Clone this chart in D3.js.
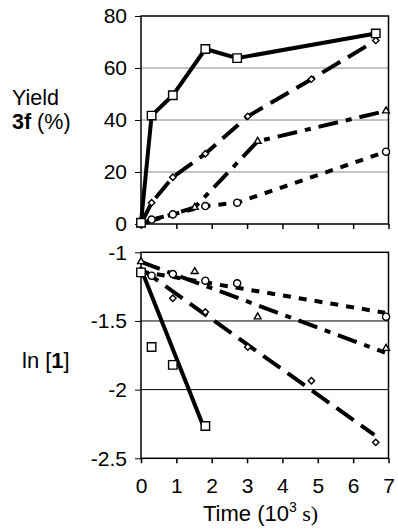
<!DOCTYPE html>
<html>
<head>
<meta charset="utf-8">
<script src="https://cdn.jsdelivr.net/npm/d3@7"></script>
<style>
  html, body { margin: 0; padding: 0; background: #fff; }
  svg { display: block; font-family: "Liberation Sans", Arial, sans-serif; }
</style>
</head>
<body>
<svg id="chart" width="398" height="529"></svg>
<script>
// time in 10^3 s
const timeTicks = [0, 1, 2, 3, 4, 5, 6, 7];
const yieldTicks = [0, 20, 40, 60, 80];
const lnTicks = [-1, -1.5, -2, -2.5];
const lnTickLabels = ["-1", "-1.5", "-2", "-2.5"];

// top panel: yield of 3f (%)
const squareTime = [0, 0.3, 0.9, 1.82, 2.72, 6.64];
const squareYield = [0.5, 41.7, 49.5, 67.3, 63.8, 73.3];
const diamondTime = [0, 0.3, 0.9, 1.82, 3.02, 4.82, 6.64];
const diamondYield = [0, 8.2, 18, 27, 41.4, 55.7, 70.6];
const triangleTime = [0, 1.52, 3.3, 6.93];
const triangleYield = [0, 6.4, 31.8, 43.5];
const circleTime = [0, 0.3, 0.9, 1.82, 2.72, 6.93];
const circleYield = [0, 1.7, 3.7, 6.9, 8.2, 27.8];

// bottom panel: ln [1]
const squareLnTime = [0, 0.3, 0.9, 1.82];
const squareLn = [-1.146, -1.69, -1.82, -2.265];
const diamondLnTime = [0, 0.9, 1.82, 3.02, 4.82, 6.64];
const diamondLn = [-1.13, -1.335, -1.435, -1.69, -1.935, -2.384];
const triangleLnTime = [0, 1.52, 3.3, 6.93];
const triangleLn = [-1.068, -1.14, -1.47, -1.70];
const circleLnTime = [0, 0.3, 0.9, 1.82, 2.72, 6.93];
const circleLn = [-1.14, -1.17, -1.158, -1.207, -1.226, -1.469];

// linear fits (start / end)
const squareFit = { t: [0, 1.8], v: [-1.12, -2.29] };
const diamondFit = { t: [0, 6.6], v: [-1.12, -2.33] };
const triangleFit = { t: [0, 6.9], v: [-1.07, -1.73] };
const circleFit = { t: [0, 6.9], v: [-1.14, -1.44] };

const svg = d3.select("#chart");
const left = 141, right = 388.5;

const x = d3.scaleLinear().domain([0, 7]).range([left, right]);
const yTop = d3.scaleLinear().domain([0, 80]).range([224, 16]);
const yBot = d3.scaleLinear().domain([-2.5, -1]).range([458.3, 252.3]);

const styles = {
  square: { dash: null },
  diamond: { dash: "21,9" },
  triangle: { dash: "20,8,6,8" },
  circle: { dash: "8,8" }
};

function zip(ts, vs) { return ts.map((t, i) => ({ t: t, v: vs[i] })); }

function drawPanel(y, ticks, labels, gridVals, gridColor, showX) {
  const g = svg.append("g");

  gridVals.forEach(v => {
    g.append("line")
      .attr("x1", left).attr("x2", right)
      .attr("y1", y(v)).attr("y2", y(v))
      .attr("stroke", gridColor).attr("stroke-width", 1);
  });

  const yAxis = d3.axisLeft(y)
    .tickValues(ticks)
    .tickFormat((d, i) => labels[i])
    .tickSizeInner(6).tickSizeOuter(0).tickPadding(8);
  const ya = g.append("g").attr("transform", `translate(${left},0)`).call(yAxis);
  ya.select(".domain").remove();
  ya.selectAll("line").attr("stroke", "#000");
  ya.selectAll("text").attr("font-size", 21).attr("fill", "#000")
    .attr("font-family", "Liberation Sans, Arial, sans-serif");

  const xAxis = d3.axisBottom(x).tickValues(timeTicks)
    .tickSizeInner(5).tickSizeOuter(0).tickPadding(15)
    .tickFormat(showX ? d3.format("d") : () => "");
  const xa = g.append("g").attr("transform", `translate(0,${y.range()[0]})`).call(xAxis);
  xa.select(".domain").remove();
  xa.selectAll("line").attr("stroke", "#000").attr("stroke-width", 1.5);
  xa.selectAll("text").attr("font-size", 21).attr("fill", "#000")
    .attr("font-family", "Liberation Sans, Arial, sans-serif");

  g.append("rect")
    .attr("x", left).attr("y", y.range()[1])
    .attr("width", right - left).attr("height", y.range()[0] - y.range()[1])
    .attr("fill", "none").attr("stroke", "#000").attr("stroke-width", 1.5);
  return g;
}

function drawLine(g, pts, y, kind) {
  const line = d3.line().x(d => x(d.t)).y(d => y(d.v));
  g.append("path")
    .datum(pts)
    .attr("d", line)
    .attr("fill", "none")
    .attr("stroke", "#000")
    .attr("stroke-width", 4)
    .attr("stroke-linejoin", "round")
    .attr("stroke-dasharray", styles[kind].dash);
}

const symbols = {
  square: d3.symbol().type(d3.symbolSquare).size(72),
  diamond: d3.symbol().type(d3.symbolDiamond2).size(26),
  triangle: d3.symbol().type(d3.symbolTriangle2).size(34),
  circle: d3.symbol().type(d3.symbolCircle).size(40)
};

function drawMarkers(g, pts, y, kind) {
  g.selectAll(null)
    .data(pts)
    .enter()
    .append("path")
    .attr("d", symbols[kind]())
    .attr("transform", d => `translate(${x(d.t)},${y(d.v)})`)
    .attr("fill", "#fff")
    .attr("stroke", "#000")
    .attr("stroke-width", 1.4);
}

// ---- top panel
const topPanel = drawPanel(yTop, yieldTicks, yieldTicks.map(String), [20, 40, 60], "#8a8a8a", false);
const topSeries = [
  ["circle", zip(circleTime, circleYield)],
  ["triangle", zip(triangleTime, triangleYield)],
  ["diamond", zip(diamondTime, diamondYield)],
  ["square", zip(squareTime, squareYield)]
];
topSeries.forEach(([k, pts]) => drawLine(topPanel, pts, yTop, k));
topSeries.forEach(([k, pts]) => drawMarkers(topPanel, pts, yTop, k));

// ---- bottom panel
const botPanel = drawPanel(yBot, lnTicks, lnTickLabels, [-1.5, -2], "#000", true);
const botSeries = [
  ["circle", zip(circleLnTime, circleLn), circleFit],
  ["triangle", zip(triangleLnTime, triangleLn), triangleFit],
  ["diamond", zip(diamondLnTime, diamondLn), diamondFit],
  ["square", zip(squareLnTime, squareLn), squareFit]
];
botSeries.forEach(([k, pts, fit]) => drawLine(botPanel, zip(fit.t, fit.v), yBot, k));
botSeries.forEach(([k, pts]) => drawMarkers(botPanel, pts, yBot, k));

// ---- axis titles
svg.append("text").attr("x", 12).attr("y", 104.5).attr("font-size", 21.5).text("Yield");
const t2 = svg.append("text").attr("x", 12).attr("y", 128.5).attr("font-size", 21.5);
t2.append("tspan").attr("font-weight", "bold").text("3f");
t2.append("tspan").text(" (%)");

const t3 = svg.append("text").attr("x", 22).attr("y", 368).attr("font-size", 22);
t3.append("tspan").text("ln [");
t3.append("tspan").attr("font-weight", "bold").text("1");
t3.append("tspan").text("]");

const t4 = svg.append("text").attr("x", 203).attr("y", 521).attr("font-size", 22);
t4.append("tspan").text("Time (10");
t4.append("tspan").attr("font-size", 14).attr("dy", -9).text("3");
t4.append("tspan").attr("dy", 9).attr("font-family", "Liberation Serif, Times New Roman, serif").text(" s)");
</script>
</body>
</html>
